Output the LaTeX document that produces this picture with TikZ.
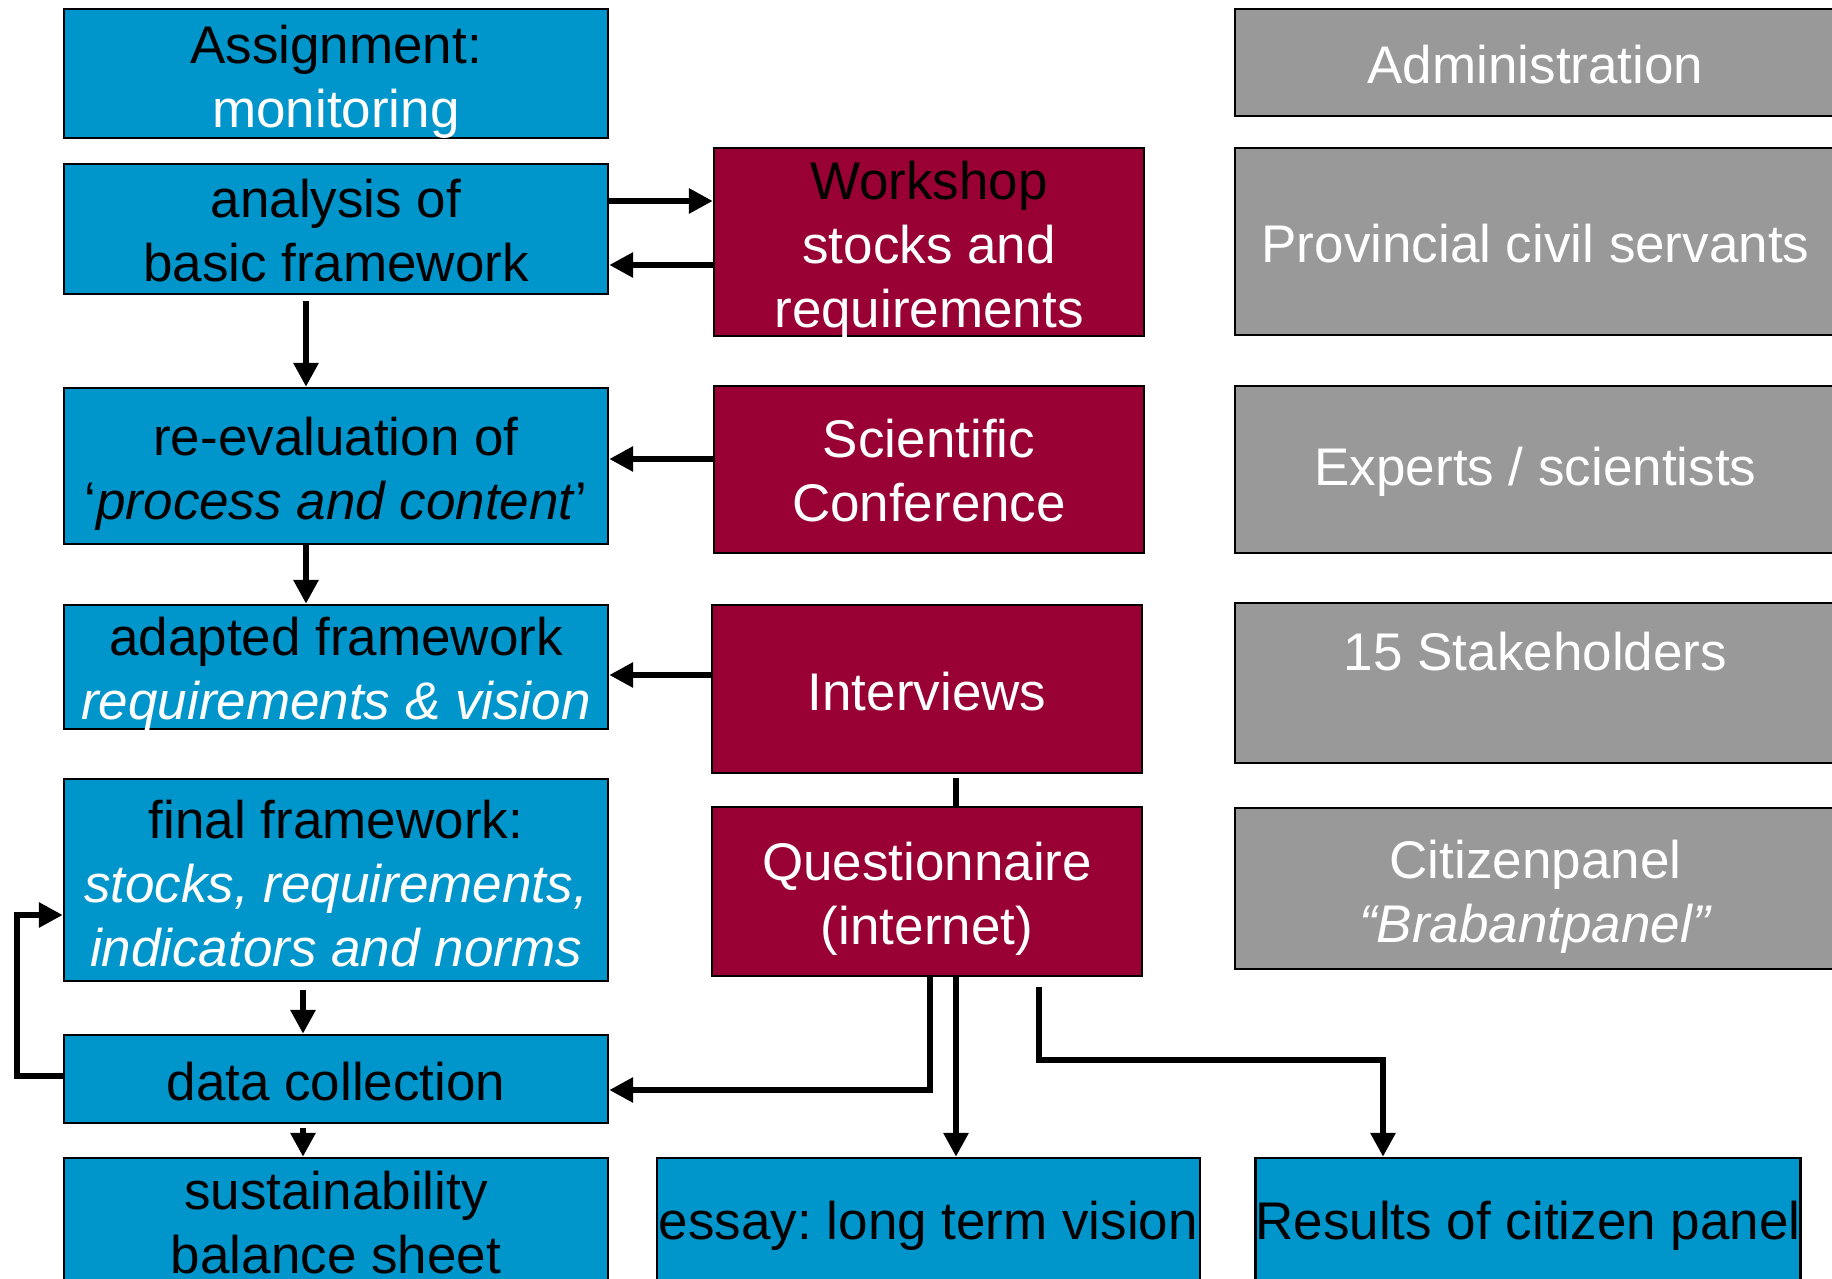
\documentclass[tikz,border=0pt]{standalone}
\usepackage{fontspec}
\setmainfont{Liberation Sans}
\usetikzlibrary{arrows.meta}
\definecolor{sky}{RGB}{0,150,204}
\definecolor{wine}{RGB}{153,0,51}
\definecolor{stone}{RGB}{153,153,153}
\frenchspacing
% first-line strut and last-line depth killer, to sit the text as in the slide
\newcommand\tallrow[1]{\rule{0pt}{#1}}
\newcommand\flatrow[1]{\raisebox{0pt}[\height][0pt]{#1}}
\tikzset{
  box/.style={draw=black,line width=1.2pt,inner sep=0pt,align=center,font=\fontsize{26.5}{32}\selectfont},
  single/.style={execute at begin node={\rule{0pt}{21.6pt}}},
  stepbox/.style={box,fill=sky,minimum width=272pt},
  event/.style={box,fill=wine,text=white,minimum width=215pt},
  actor/.style={box,fill=stone,text=white,minimum width=300.5pt},
  flow/.style={-{Triangle[length=12pt,width=12pt]},line width=3pt},
  link/.style={line width=3pt}
}
\begin{document}
\begin{tikzpicture}[x=.5pt,y=-.5pt]
  \clip (0,0) rectangle (1832,1279);

  % left column: steps
  \node[stepbox,minimum height=64.5pt] (assign) at (336,73.5) {\tallrow{21.9pt}Assignment:\\\flatrow{\textcolor{white}{monitoring}}};
  \node[stepbox,minimum height=65pt] (analysis) at (336,229) {\tallrow{21.1pt}analysis of\\basic framework};
  \node[stepbox,minimum height=78pt] (reeval) at (336,466) {\tallrow{21.9pt}re-evaluation of\\\flatrow{‘\textit{process and content}’}};
  \node[stepbox,minimum height=62pt] (adapted) at (336,667) {\tallrow{20.1pt}adapted framework\\\flatrow{\textcolor{white}{\textit{requirements \& vision}}}};
  \node[stepbox,minimum height=101pt] (final) at (336,880) {\tallrow{22.8pt}final framework:\\\textcolor{white}{\textit{stocks, requirements,}}\\\textcolor{white}{\textit{indicators and norms}}};
  \node[stepbox,single,minimum height=44pt] (datacoll) at (336,1079) {data collection};
  \node[stepbox,minimum height=65pt] (balance) at (336,1223) {sustainability\\balance sheet};

  % middle column: events
  \node[event,minimum height=94pt] (workshop) at (929,242) {\tallrow{21.9pt}\textcolor{black}{Workshop}\\stocks and\\\flatrow{requirements}};
  \node[event,minimum height=83.5pt] (conference) at (929,469.5) {\tallrow{20.5pt}Scientific\\Conference};
  \node[event,single,minimum height=84pt] (interviews) at (927,689) {Interviews};
  \node[event,minimum height=84.5pt] (questionnaire) at (927,891.5) {\tallrow{21.3pt}Questionnaire\\\flatrow{(internet)}};

  % right column: actors
  \node[actor,single,minimum height=53.5pt] (admin) at (1535.5,62.5) {Administration};
  \node[actor,single,minimum height=93.5pt] (civil) at (1535.5,241.5) {Provincial civil servants};
  \node[actor,single,minimum height=83.5pt] (experts) at (1535.5,469.5) {Experts / scientists};
  \node[actor,minimum height=80pt] (stake) at (1535.5,683) {15 Stakeholders\\\mbox{}};
  \node[actor,minimum height=80.5pt] (citizen) at (1535.5,888.5) {\tallrow{21.9pt}Citizenpanel\\\flatrow{\textit{“Brabantpanel”}}};

  % bottom row: outputs
  \node[stepbox,single,minimum width=271.5pt,minimum height=65pt] (essay) at (928.5,1223) {essay: long term vision};
  \node[stepbox,single,minimum height=65pt] (results) at (1528,1223) {Results of citizen panel};

  % connectors
  \draw[flow] (analysis.east |- 0,201) -- (workshop.west |- 0,201);
  \draw[flow] (workshop.west |- 0,265) -- (analysis.east |- 0,265);
  \draw[flow,shorten <=3pt] (306,0 |- analysis.south) -- (306,0 |- reeval.north);
  \draw[flow] (conference.west |- 0,459) -- (reeval.east |- 0,459);
  \draw[flow] (306,0 |- reeval.south) -- (306,0 |- adapted.north);
  \draw[flow] (interviews.west |- 0,675) -- (adapted.east |- 0,675);
  \draw[link,shorten <=2pt] (956,0 |- interviews.south) -- (956,0 |- questionnaire.north);
  \draw[flow,shorten <=4pt] (303,0 |- final.south) -- (303,0 |- datacoll.north);
  \draw[flow,shorten <=2pt] (303,0 |- datacoll.south) -- (303,0 |- balance.north);
  \draw[flow] (datacoll.west |- 0,1076) -| (17,915) -- (final.west |- 0,915);
  \draw[flow] (930,0 |- questionnaire.south) |- (datacoll.east |- 0,1090);
  \draw[flow] (956,0 |- questionnaire.south) -- (956,0 |- essay.north);
  \draw[flow,shorten <=5pt] (1039,0 |- questionnaire.south) |- (1383,1060) -- (1383,0 |- results.north);
\end{tikzpicture}
\end{document}
